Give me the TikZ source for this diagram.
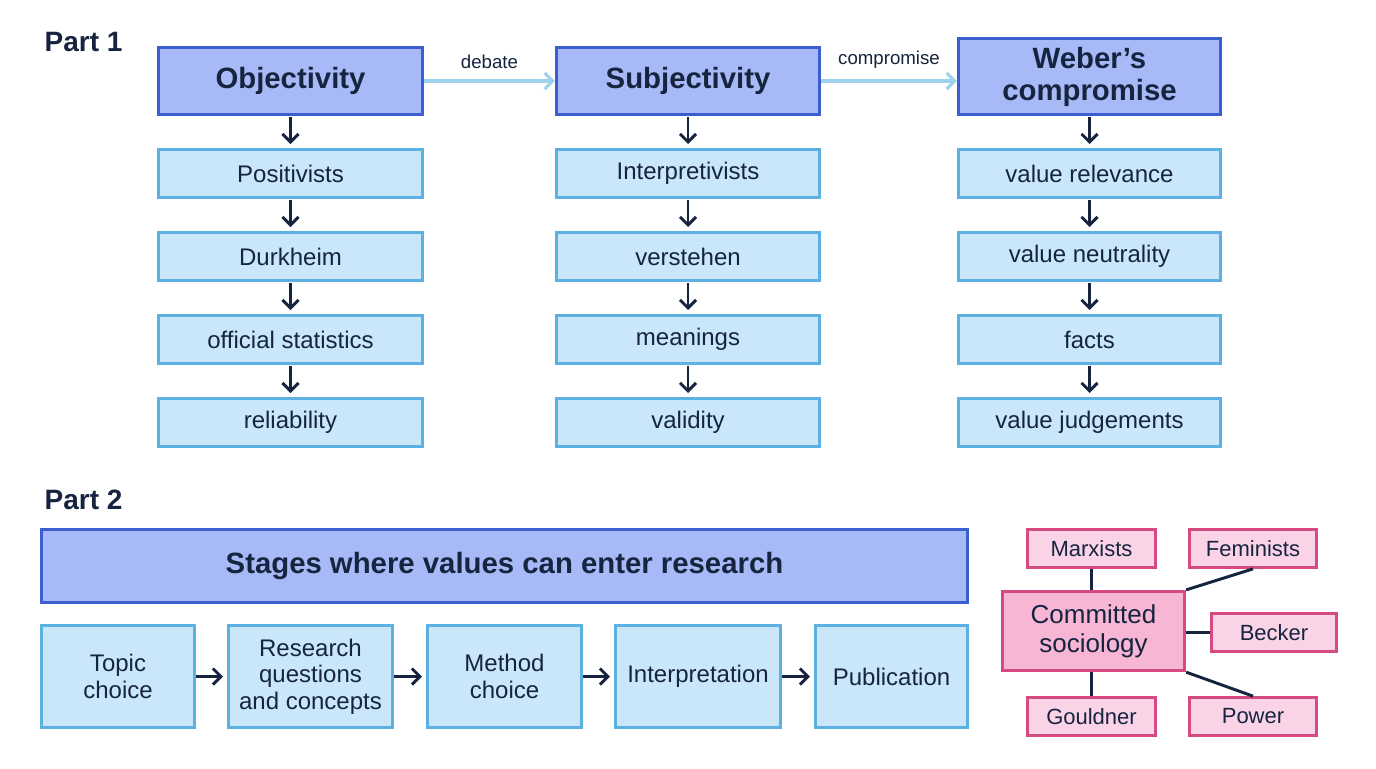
\documentclass[tikz,border=0pt]{standalone}
\usepackage{fontspec}
\setmainfont{Liberation Sans}
\usetikzlibrary{arrows.meta}
\definecolor{hdfill}{HTML}{A7B9F6}
\definecolor{hdline}{HTML}{3B5FCF}
\definecolor{bxfill}{HTML}{C9E7F9}
\definecolor{bxline}{HTML}{5CB0E2}
\definecolor{pkfill}{HTML}{FAD3E6}
\definecolor{pkmain}{HTML}{F6B6D4}
\definecolor{pkline}{HTML}{D64A82}
\definecolor{dark}{HTML}{16243F}
\definecolor{lite}{HTML}{9FD2EF}
\begin{document}
\begin{tikzpicture}[x=0.75pt,y=-0.75pt,
 hd/.style={draw=hdline,fill=hdfill,line width=2.2pt,font=\fontsize{22}{24}\selectfont\bfseries,align=center,inner sep=0pt,text=dark},
 bx/.style={draw=bxline,fill=bxfill,line width=2pt,font=\fontsize{18}{20}\selectfont,align=center,inner sep=0pt,text=dark},
 pk/.style={draw=pkline,fill=pkfill,line width=1.8pt,font=\fontsize{16.5}{19}\selectfont,align=center,inner sep=0pt,text=dark},
 da/.style={draw=dark,line width=2.2pt,-{Straight Barb[length=6pt,width=12pt,line width=2.2pt]}},
 la/.style={draw=lite,line width=2.4pt,-{Straight Barb[length=6pt,width=12pt]}},
 ln/.style={draw=dark,line width=2.2pt},
 lbl/.style={font=\fontsize{21}{23}\selectfont\bfseries,text=dark,anchor=west}]
\useasboundingbox (0,0) rectangle (1376,768);
\fill[white] (0,0) rectangle (1376,768);
\newcommand{\bbox}[6]{\node[#1,minimum width=#4*0.75pt-2pt,minimum height=#5*0.75pt-2pt] (#2) at (#3) {#6};}
\node[lbl] (p1) at (40,42) {Part 1};
\node[lbl] (p2) at (40,500) {Part 2};
% column 1
\bbox{hd}{o}{290.5,81}{267}{70}{Objectivity}
\bbox{bx}{a1}{290.5,173.5}{267}{51}{Positivists}
\bbox{bx}{a2}{290.5,256.5}{267}{51}{Durkheim}
\bbox{bx}{a3}{290.5,339.5}{267}{51}{official statistics}
\bbox{bx}{a4}{290.5,422.5}{267}{51}{reliability}
% column 2
\bbox{hd}{s}{688,81}{266}{70}{Subjectivity}
\bbox{bx}{b1}{688,173.5}{266}{51}{Interpretivists}
\bbox{bx}{b2}{688,256.5}{266}{51}{verstehen}
\bbox{bx}{b3}{688,339.5}{266}{51}{meanings}
\bbox{bx}{b4}{688,422.5}{266}{51}{validity}
% column 3
\bbox{hd}{w}{1089.5,76.5}{265}{79}{Weber’s\\compromise}
\bbox{bx}{c1}{1089.5,173.5}{265}{51}{value relevance}
\bbox{bx}{c2}{1089.5,256.5}{265}{51}{value neutrality}
\bbox{bx}{c3}{1089.5,339.5}{265}{51}{facts}
\bbox{bx}{c4}{1089.5,422.5}{265}{51}{value judgements}
\foreach \p/\q in {o/a1,a1/a2,a2/a3,a3/a4,s/b1,b1/b2,b2/b3,b3/b4,w/c1,c1/c2,c2/c3,c3/c4}
  \draw[da,shorten >=3pt,shorten <=1pt] (\p) -- (\q);
\draw[la] (o.east|-0,81) -- node[above=5pt,font=\fontsize{14}{16}\selectfont,text=dark]{debate} (s.west|-0,81);
\draw[la] (s.east|-0,81) -- node[above=5pt,font=\fontsize{14}{16}\selectfont,text=dark]{compromise} (w.west|-0,81);
% part 2
\bbox{hd}{st}{504.5,566}{929}{76}{Stages where values can enter research}
\bbox{bx}{t1}{118,676.5}{156}{105}{Topic\\choice}
\bbox{bx}{t2}{310.5,676.5}{167}{105}{Research\\questions\\and concepts}
\bbox{bx}{t3}{504.5,676.5}{157}{105}{Method\\choice}
\bbox{bx}{t4}{698,676.5}{168}{105}{Interpretation}
\bbox{bx}{t5}{891.5,676.5}{155}{105}{Publication}
\foreach \p/\q in {t1/t2,t2/t3,t3/t4,t4/t5} \draw[da,shorten >=3pt] (\p) -- (\q);
% committed sociology
\bbox{pk}{m}{1091.5,548.5}{131}{41}{Marxists}
\bbox{pk}{f}{1253,548.5}{130}{41}{Feminists}
\node[draw=pkline,fill=pkmain,line width=2.2pt,font=\fontsize{19.5}{22}\selectfont,align=center,inner sep=0pt,text=dark,minimum width=185*0.75pt-2pt,minimum height=82*0.75pt-2pt] (cs) at (1093.5,631) {Committed\\sociology};
\bbox{pk}{be}{1274,632.5}{128}{41}{Becker}
\bbox{pk}{g}{1091.5,716.5}{131}{41}{Gouldner}
\bbox{pk}{pw}{1253,716.5}{130}{41}{Power}
\draw[ln] (m) -- (cs.north-|m);
\draw[ln] (g) -- (cs.south-|g);
\draw[ln] (be.west) -- (cs.east|-be.west);
\draw[ln] (f.south) -- (cs.north east);
\draw[ln] (pw.north) -- (cs.south east);
\end{tikzpicture}
\end{document}
